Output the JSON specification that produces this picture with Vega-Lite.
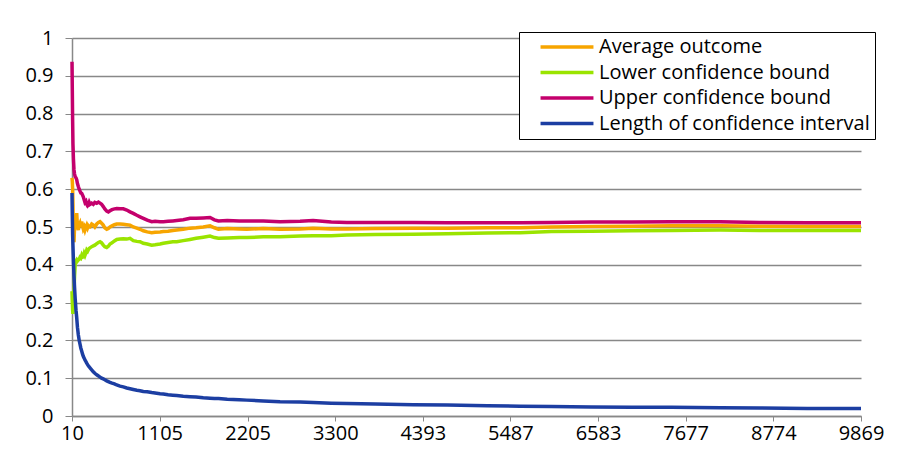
{
  "$schema": "https://vega.github.io/schema/vega-lite/v6.json",
  "width": 789,
  "height": 378,
  "autosize": {"type": "none"},
  "padding": {"left": 72, "top": 38, "right": 43, "bottom": 41},
  "background": "white",
  "config": {"font": "Open Sans", "view": {"stroke": null}},
  "data": {
    "values": [
      {"n": 10, "avg": 0.63, "lo": 0.33, "up": 0.937, "len": 0.59},
      {"n": 14, "avg": 0.62, "lo": 0.30, "up": 0.86, "len": 0.53},
      {"n": 18, "avg": 0.60, "lo": 0.28, "up": 0.78, "len": 0.48},
      {"n": 22, "avg": 0.56, "lo": 0.27, "up": 0.72, "len": 0.45},
      {"n": 28, "avg": 0.47, "lo": 0.30, "up": 0.68, "len": 0.41},
      {"n": 35, "avg": 0.46, "lo": 0.33, "up": 0.651, "len": 0.37},
      {"n": 42, "avg": 0.50, "lo": 0.37, "up": 0.64, "len": 0.34},
      {"n": 50, "avg": 0.52, "lo": 0.40, "up": 0.633, "len": 0.31},
      {"n": 60, "avg": 0.50, "lo": 0.41, "up": 0.63, "len": 0.28},
      {"n": 69, "avg": 0.537, "lo": 0.413, "up": 0.625, "len": 0.26},
      {"n": 78, "avg": 0.50, "lo": 0.41, "up": 0.615, "len": 0.235},
      {"n": 89, "avg": 0.492, "lo": 0.413, "up": 0.607, "len": 0.215},
      {"n": 100, "avg": 0.505, "lo": 0.415, "up": 0.60, "len": 0.20},
      {"n": 110, "avg": 0.51, "lo": 0.42, "up": 0.595, "len": 0.19},
      {"n": 120, "avg": 0.50, "lo": 0.418, "up": 0.59, "len": 0.18},
      {"n": 131, "avg": 0.514, "lo": 0.425, "up": 0.589, "len": 0.172},
      {"n": 140, "avg": 0.505, "lo": 0.42, "up": 0.585, "len": 0.165},
      {"n": 151, "avg": 0.495, "lo": 0.421, "up": 0.58, "len": 0.158},
      {"n": 162, "avg": 0.50, "lo": 0.43, "up": 0.572, "len": 0.153},
      {"n": 172, "avg": 0.492, "lo": 0.425, "up": 0.565, "len": 0.148},
      {"n": 184, "avg": 0.50, "lo": 0.432, "up": 0.568, "len": 0.144},
      {"n": 194, "avg": 0.505, "lo": 0.439, "up": 0.56, "len": 0.14},
      {"n": 205, "avg": 0.498, "lo": 0.436, "up": 0.556, "len": 0.136},
      {"n": 214, "avg": 0.503, "lo": 0.44, "up": 0.558, "len": 0.133},
      {"n": 225, "avg": 0.50, "lo": 0.443, "up": 0.565, "len": 0.13},
      {"n": 235, "avg": 0.50, "lo": 0.445, "up": 0.56, "len": 0.127},
      {"n": 256, "avg": 0.508, "lo": 0.448, "up": 0.563, "len": 0.122},
      {"n": 276, "avg": 0.505, "lo": 0.45, "up": 0.56, "len": 0.117},
      {"n": 295, "avg": 0.50, "lo": 0.452, "up": 0.565, "len": 0.113},
      {"n": 319, "avg": 0.508, "lo": 0.456, "up": 0.563, "len": 0.109},
      {"n": 340, "avg": 0.512, "lo": 0.459, "up": 0.566, "len": 0.106},
      {"n": 360, "avg": 0.514, "lo": 0.461, "up": 0.563, "len": 0.103},
      {"n": 380, "avg": 0.51, "lo": 0.458, "up": 0.56, "len": 0.10},
      {"n": 401, "avg": 0.505, "lo": 0.452, "up": 0.554, "len": 0.098},
      {"n": 420, "avg": 0.498, "lo": 0.448, "up": 0.548, "len": 0.096},
      {"n": 444, "avg": 0.494, "lo": 0.446, "up": 0.542, "len": 0.093},
      {"n": 464, "avg": 0.496, "lo": 0.449, "up": 0.54, "len": 0.091},
      {"n": 485, "avg": 0.50, "lo": 0.455, "up": 0.543, "len": 0.089},
      {"n": 510, "avg": 0.503, "lo": 0.458, "up": 0.546, "len": 0.087},
      {"n": 540, "avg": 0.506, "lo": 0.463, "up": 0.548, "len": 0.085},
      {"n": 569, "avg": 0.508, "lo": 0.467, "up": 0.549, "len": 0.082},
      {"n": 610, "avg": 0.508, "lo": 0.468, "up": 0.548, "len": 0.079},
      {"n": 651, "avg": 0.507, "lo": 0.469, "up": 0.548, "len": 0.077},
      {"n": 694, "avg": 0.506, "lo": 0.468, "up": 0.545, "len": 0.074},
      {"n": 735, "avg": 0.505, "lo": 0.47, "up": 0.54, "len": 0.072},
      {"n": 776, "avg": 0.50, "lo": 0.464, "up": 0.536, "len": 0.07},
      {"n": 820, "avg": 0.497, "lo": 0.462, "up": 0.531, "len": 0.068},
      {"n": 860, "avg": 0.494, "lo": 0.461, "up": 0.527, "len": 0.067},
      {"n": 901, "avg": 0.49, "lo": 0.457, "up": 0.523, "len": 0.065},
      {"n": 950, "avg": 0.487, "lo": 0.455, "up": 0.518, "len": 0.064},
      {"n": 1006, "avg": 0.485, "lo": 0.452, "up": 0.514, "len": 0.062},
      {"n": 1048, "avg": 0.486, "lo": 0.453, "up": 0.515, "len": 0.061},
      {"n": 1110, "avg": 0.487, "lo": 0.455, "up": 0.514, "len": 0.059},
      {"n": 1151, "avg": 0.488, "lo": 0.457, "up": 0.514, "len": 0.058},
      {"n": 1210, "avg": 0.489, "lo": 0.459, "up": 0.515, "len": 0.056},
      {"n": 1270, "avg": 0.491, "lo": 0.461, "up": 0.516, "len": 0.055},
      {"n": 1319, "avg": 0.492, "lo": 0.461, "up": 0.517, "len": 0.054},
      {"n": 1400, "avg": 0.494, "lo": 0.464, "up": 0.519, "len": 0.052},
      {"n": 1485, "avg": 0.497, "lo": 0.467, "up": 0.523, "len": 0.051},
      {"n": 1560, "avg": 0.498, "lo": 0.47, "up": 0.523, "len": 0.05},
      {"n": 1650, "avg": 0.50, "lo": 0.473, "up": 0.524, "len": 0.048},
      {"n": 1735, "avg": 0.503, "lo": 0.476, "up": 0.525, "len": 0.047},
      {"n": 1790, "avg": 0.498, "lo": 0.472, "up": 0.519, "len": 0.046},
      {"n": 1840, "avg": 0.494, "lo": 0.47, "up": 0.516, "len": 0.046},
      {"n": 1950, "avg": 0.496, "lo": 0.471, "up": 0.517, "len": 0.044},
      {"n": 2100, "avg": 0.495, "lo": 0.472, "up": 0.516, "len": 0.043},
      {"n": 2194, "avg": 0.494, "lo": 0.472, "up": 0.516, "len": 0.042},
      {"n": 2400, "avg": 0.496, "lo": 0.474, "up": 0.516, "len": 0.04},
      {"n": 2610, "avg": 0.494, "lo": 0.474, "up": 0.514, "len": 0.038},
      {"n": 2860, "avg": 0.495, "lo": 0.476, "up": 0.515, "len": 0.037},
      {"n": 3023, "avg": 0.497, "lo": 0.477, "up": 0.517, "len": 0.036},
      {"n": 3250, "avg": 0.495, "lo": 0.477, "up": 0.513, "len": 0.034},
      {"n": 3444, "avg": 0.495, "lo": 0.479, "up": 0.512, "len": 0.033},
      {"n": 3800, "avg": 0.496, "lo": 0.48, "up": 0.512, "len": 0.032},
      {"n": 4270, "avg": 0.497, "lo": 0.481, "up": 0.512, "len": 0.03},
      {"n": 4700, "avg": 0.497, "lo": 0.482, "up": 0.511, "len": 0.029},
      {"n": 5200, "avg": 0.498, "lo": 0.484, "up": 0.511, "len": 0.027},
      {"n": 5610, "avg": 0.498, "lo": 0.485, "up": 0.511, "len": 0.026},
      {"n": 6000, "avg": 0.5, "lo": 0.488, "up": 0.512, "len": 0.025},
      {"n": 6500, "avg": 0.501, "lo": 0.489, "up": 0.513, "len": 0.024},
      {"n": 7000, "avg": 0.502, "lo": 0.49, "up": 0.513, "len": 0.023},
      {"n": 7500, "avg": 0.503, "lo": 0.491, "up": 0.514, "len": 0.023},
      {"n": 8110, "avg": 0.503, "lo": 0.492, "up": 0.514, "len": 0.022},
      {"n": 8600, "avg": 0.502, "lo": 0.491, "up": 0.512, "len": 0.021},
      {"n": 9200, "avg": 0.501, "lo": 0.491, "up": 0.511, "len": 0.02},
      {"n": 9869, "avg": 0.501, "lo": 0.491, "up": 0.511, "len": 0.02}
    ]
  },
  "transform": [{"fold": ["avg", "lo", "up", "len"], "as": ["series", "value"]}],
  "mark": {"type": "line", "strokeWidth": 3.5},
  "encoding": {
    "x": {
      "field": "n",
      "type": "quantitative",
      "scale": {"domain": [10, 9869], "nice": false, "zero": false},
      "axis": {
        "values": [10, 1105, 2205, 3300, 4393, 5487, 6583, 7677, 8774, 9869],
        "format": "d",
        "title": null,
        "grid": false,
        "domainColor": "#888888",
        "domainWidth": 1.5,
        "tickColor": "#888888",
        "tickSize": 5,
        "labelFontSize": 20,
        "labelColor": "#000000",
        "labelPadding": 2,
        "labelFlush": false,
        "labelOverlap": false
      }
    },
    "y": {
      "field": "value",
      "type": "quantitative",
      "scale": {"domain": [0, 1], "nice": false},
      "axis": {
        "values": [0, 0.1, 0.2, 0.3, 0.4, 0.5, 0.6, 0.7, 0.8, 0.9, 1],
        "format": ".1~f",
        "title": null,
        "grid": true,
        "gridColor": "#888888",
        "gridWidth": 1.3,
        "domainColor": "#888888",
        "domainWidth": 1.5,
        "tickColor": "#888888",
        "tickSize": 7,
        "labelFontSize": 20,
        "labelColor": "#000000",
        "labelPadding": 12,
        "labelOverlap": false
      }
    },
    "color": {
      "field": "series",
      "type": "nominal",
      "sort": ["avg", "lo", "up", "len"],
      "scale": {
        "domain": ["avg", "lo", "up", "len"],
        "range": ["#F7A500", "#9AE400", "#C4006C", "#1C3EA2"]
      },
      "legend": {
        "title": null,
        "orient": "none",
        "legendX": 447,
        "legendY": -6,
        "direction": "vertical",
        "strokeColor": "#000000",
        "fillColor": "#FFFFFF",
        "padding": 5,
        "symbolType": "M-5,0L5,0",
        "symbolSize": 112,
        "symbolStrokeWidth": 3.5,
        "symbolOffset": 33,
        "labelFontSize": 20,
        "labelColor": "#000000",
        "labelOffset": 22,
        "labelLimit": 400,
        "rowPadding": 5.5,
        "labelExpr": "datum.value == 'avg' ? 'Average outcome' : datum.value == 'lo' ? 'Lower confidence bound' : datum.value == 'up' ? 'Upper confidence bound' : 'Length of confidence interval   '"
      }
    }
  }
}
